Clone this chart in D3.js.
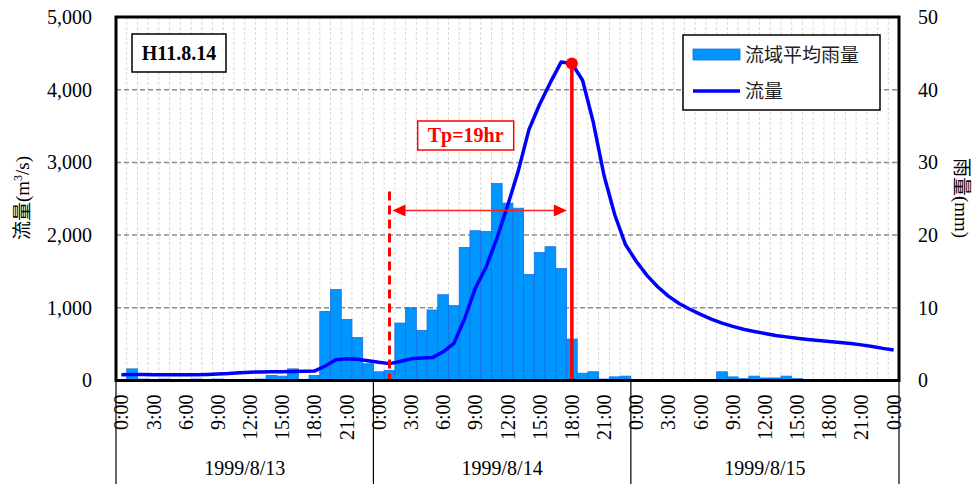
<!DOCTYPE html>
<html>
<head>
<meta charset="utf-8">
<script src="https://cdn.jsdelivr.net/npm/d3@7"></script>
<style>
  body { margin: 0; background: #fff; }
  text { font-family: "Liberation Serif", "Times New Roman", serif; }
</style>
</head>
<body>
<div id="chart"></div>
<script>
// hourly basin-average rainfall (mm), 1999/8/13 0:00 .. 1999/8/16 0:00
const rain = [
  0.1, 1.6, 0.2, 0, 0.2, 0, 0, 0.2, 0, 0.2, 0, 0, 0, 0.2, 0.7, 0.6, 1.6, 0.1, 0.7, 9.5, 12.5, 8.4, 5.9, 2.3,
  1.2, 1.4, 7.9, 10.0, 6.9, 9.7, 11.8, 10.3, 18.3, 20.6, 20.5, 27.1, 24.4, 23.7, 14.6, 17.6, 18.4, 15.4, 5.7, 1.0,
  1.2, 0.2, 0.5, 0.6, 0.15, 0, 0, 0, 0, 0, 0, 0.15, 1.2, 0.5, 0.25, 0.6, 0.35, 0.35, 0.6, 0.25, 0.1, 0,
  0, 0, 0, 0, 0, 0.1, 0.1
];
// hourly discharge (m3/s)
const flow = [
  80, 82, 82, 80, 78, 78, 78, 80, 84, 88, 95, 108, 115, 118, 120, 122, 124, 126, 130, 200, 285, 300, 292, 272,
  250, 232, 262, 298, 308, 315, 395, 510, 850, 1270, 1560, 1950, 2400, 2880, 3450, 3800, 4100, 4380, 4360, 4130,
  3550, 2820, 2280, 1870, 1640, 1446, 1290, 1160, 1060, 980, 910, 845, 790, 745, 705, 675, 647, 620, 600, 580,
  565, 551, 537, 523, 510, 490, 468, 442, 420
];
const tickLabels = [
  "0:00", "3:00", "6:00", "9:00", "12:00", "15:00", "18:00", "21:00",
  "0:00", "3:00", "6:00", "9:00", "12:00", "15:00", "18:00", "21:00",
  "0:00", "3:00", "6:00", "9:00", "12:00", "15:00", "18:00", "21:00", "0:00"
];
const days = ["1999/8/13", "1999/8/14", "1999/8/15"];
const dayStart = [0, 24, 48];
const flowTicks = [0, 1000, 2000, 3000, 4000, 5000];
const rainTicks = [0, 10, 20, 30, 40, 50];

// annotation: rise start and peak hour
const startIdx = 25, peakIdx = 42;
const arrowFlow = 2340, dashTopFlow = 2600;

const W = 977, H = 484;
const pLeft = 116, pRight = 899, pTop = 17, pBottom = 380.5;

const svg = d3.select("#chart").append("svg")
  .attr("width", W).attr("height", H);

const x = d3.scaleBand().domain(d3.range(rain.length)).range([pLeft, pRight]).padding(0);
const bw = x.bandwidth();
const cx = (i) => x(i) + bw / 2;
const yFlow = d3.scaleLinear().domain([0, 5000]).range([pBottom, pTop]);
const yRain = d3.scaleLinear().domain([0, 50]).range([pBottom, pTop]);

// vertical grid (hour boundaries)
svg.append("g").selectAll("line")
  .data(d3.range(1, rain.length))
  .join("line")
  .attr("x1", (d) => x(d)).attr("x2", (d) => x(d))
  .attr("y1", pTop).attr("y2", pBottom)
  .attr("stroke", "#d8d8d8").attr("stroke-width", 1)
  .attr("stroke-dasharray", "3,2");

// horizontal grid
svg.append("g").selectAll("line")
  .data(flowTicks.slice(1, -1))
  .join("line")
  .attr("x1", pLeft).attr("x2", pRight)
  .attr("y1", (d) => yFlow(d)).attr("y2", (d) => yFlow(d))
  .attr("stroke", "#8c8c8c").attr("stroke-width", 1.5)
  .attr("stroke-dasharray", "5,3");

// rain bars
svg.append("g").selectAll("rect")
  .data(rain.map((v, i) => ({ v, i })).filter((d) => d.v > 0))
  .join("rect")
  .attr("x", (d) => x(d.i))
  .attr("width", bw)
  .attr("y", (d) => yRain(d.v))
  .attr("height", (d) => pBottom - yRain(d.v))
  .attr("fill", "#0096ff")
  .attr("stroke", "#1a6ee6")
  .attr("stroke-width", 0.8);

// flow line
svg.append("path")
  .datum(flow)
  .attr("fill", "none")
  .attr("stroke", "#0000ff")
  .attr("stroke-width", 3.5)
  .attr("stroke-linejoin", "round")
  .attr("d", d3.line().x((d, i) => cx(i)).y((d) => yFlow(d)));

// annotations
svg.append("line")
  .attr("x1", cx(startIdx)).attr("x2", cx(startIdx))
  .attr("y1", yFlow(dashTopFlow)).attr("y2", pBottom)
  .attr("stroke", "#ff0000").attr("stroke-width", 3)
  .attr("stroke-dasharray", "9,5");
svg.append("line")
  .attr("x1", cx(peakIdx)).attr("x2", cx(peakIdx))
  .attr("y1", yFlow(flow[peakIdx])).attr("y2", pBottom)
  .attr("stroke", "#ff0000").attr("stroke-width", 3.5);
svg.append("circle")
  .attr("cx", cx(peakIdx)).attr("cy", yFlow(flow[peakIdx]))
  .attr("r", 6).attr("fill", "#ff0000");

const ay = yFlow(arrowFlow);
const ax0 = cx(startIdx) + 3, ax1 = cx(peakIdx) - 5;
svg.append("line")
  .attr("x1", ax0 + 10).attr("x2", ax1 - 10)
  .attr("y1", ay).attr("y2", ay)
  .attr("stroke", "#ff2020").attr("stroke-width", 1.5);
svg.append("path")
  .attr("d", `M${ax0},${ay} l13,-6 l0,12 Z M${ax1},${ay} l-13,-6 l0,12 Z`)
  .attr("fill", "#ff0000");

// Tp label
const tpx = (ax0 + ax1) / 2 - 14;
svg.append("rect")
  .attr("x", tpx - 48).attr("y", 121).attr("width", 96).attr("height", 29)
  .attr("fill", "#fff").attr("stroke", "#ff0000").attr("stroke-width", 1.5);
svg.append("text")
  .attr("x", tpx).attr("y", 142)
  .attr("text-anchor", "middle")
  .attr("font-weight", "bold").attr("font-size", 20)
  .attr("fill", "#ff0000")
  .text("Tp=19hr");

// event label
svg.append("rect")
  .attr("x", 132).attr("y", 34).attr("width", 94).attr("height", 38)
  .attr("fill", "#fff").attr("stroke", "#000").attr("stroke-width", 1.5);
svg.append("text")
  .attr("x", 179).attr("y", 60)
  .attr("text-anchor", "middle")
  .attr("font-weight", "bold").attr("font-size", 20)
  .text("H11.8.14");

// legend
const lg = svg.append("g").attr("transform", "translate(683,35)");
lg.append("rect").attr("width", 197).attr("height", 75)
  .attr("fill", "#fff").attr("stroke", "#000").attr("stroke-width", 1.5);
lg.append("rect").attr("x", 10).attr("y", 14).attr("width", 47).attr("height", 11)
  .attr("fill", "#0096ff").attr("stroke", "#1a6ee6").attr("stroke-width", 0.8);
lg.append("line").attr("x1", 10).attr("x2", 57).attr("y1", 56).attr("y2", 56)
  .attr("stroke", "#0000ff").attr("stroke-width", 3.5);
lg.selectAll("text.lab")
  .data(["流域平均雨量", "流量"])
  .join("text")
  .attr("class", "lab")
  .attr("x", 62).attr("y", (d, i) => 27 + i * 36)
  .style("font-family", "'Noto Sans CJK JP', sans-serif")
  .attr("font-size", 19)
  .attr("fill", "#222")
  .text((d) => d);

// plot frame
svg.append("rect")
  .attr("x", pLeft).attr("y", pTop)
  .attr("width", pRight - pLeft).attr("height", pBottom - pTop)
  .attr("fill", "none").attr("stroke", "#000").attr("stroke-width", 3);

// left axis
const gl = svg.append("g").attr("transform", `translate(${pLeft},0)`)
  .call(d3.axisLeft(yFlow).tickValues(flowTicks).tickFormat(d3.format(",")).tickSize(0).tickPadding(24));
gl.select(".domain").remove();
gl.selectAll("text").attr("font-size", 20).attr("fill", "#000")
  .style("font-family", "'Liberation Serif', serif");

// right axis
const gr = svg.append("g").attr("transform", `translate(${pRight},0)`)
  .call(d3.axisRight(yRain).tickValues(rainTicks).tickSize(0).tickPadding(19));
gr.select(".domain").remove();
gr.selectAll("text").attr("font-size", 20).attr("fill", "#000")
  .style("font-family", "'Liberation Serif', serif");

// bottom time axis
const gb = svg.append("g").attr("transform", `translate(0,${pBottom})`)
  .call(d3.axisBottom(x).tickValues(d3.range(0, rain.length, 3))
    .tickFormat((d, i) => tickLabels[i]).tickSize(0));
gb.select(".domain").remove();
gb.selectAll("text")
  .attr("font-size", 20).attr("fill", "#000")
  .style("font-family", "'Liberation Serif', serif")
  .attr("transform", "rotate(-90)")
  .attr("text-anchor", "end")
  .attr("x", -14).attr("y", 0).attr("dy", "0.35em");

// date groups
const bounds = dayStart.map((d) => x(d)).concat([pRight]);
svg.append("g").selectAll("line")
  .data(bounds)
  .join("line")
  .attr("x1", (d) => d).attr("x2", (d) => d)
  .attr("y1", pBottom).attr("y2", H)
  .attr("stroke", "#000").attr("stroke-width", 1.2);
svg.append("g").selectAll("text")
  .data(days)
  .join("text")
  .attr("x", (d, i) => (bounds[i] + bounds[i + 1]) / 2)
  .attr("y", 475)
  .attr("text-anchor", "middle")
  .attr("font-size", 20)
  .text((d) => d);

// axis titles
svg.append("text")
  .attr("transform", "translate(22,198) rotate(-90)")
  .attr("text-anchor", "middle")
  .attr("dy", "0.35em")
  .attr("font-size", 19)
  .style("font-family", "'Liberation Serif', 'Noto Sans CJK JP', serif")
  .html('流量(m<tspan baseline-shift="super" font-size="12">3</tspan>/s)');
svg.append("text")
  .attr("transform", "translate(962,198) rotate(90)")
  .attr("text-anchor", "middle")
  .attr("dy", "0.35em")
  .attr("font-size", 19)
  .style("font-family", "'Liberation Serif', 'Noto Sans CJK JP', serif")
  .text("雨量(mm)");
</script>
</body>
</html>
